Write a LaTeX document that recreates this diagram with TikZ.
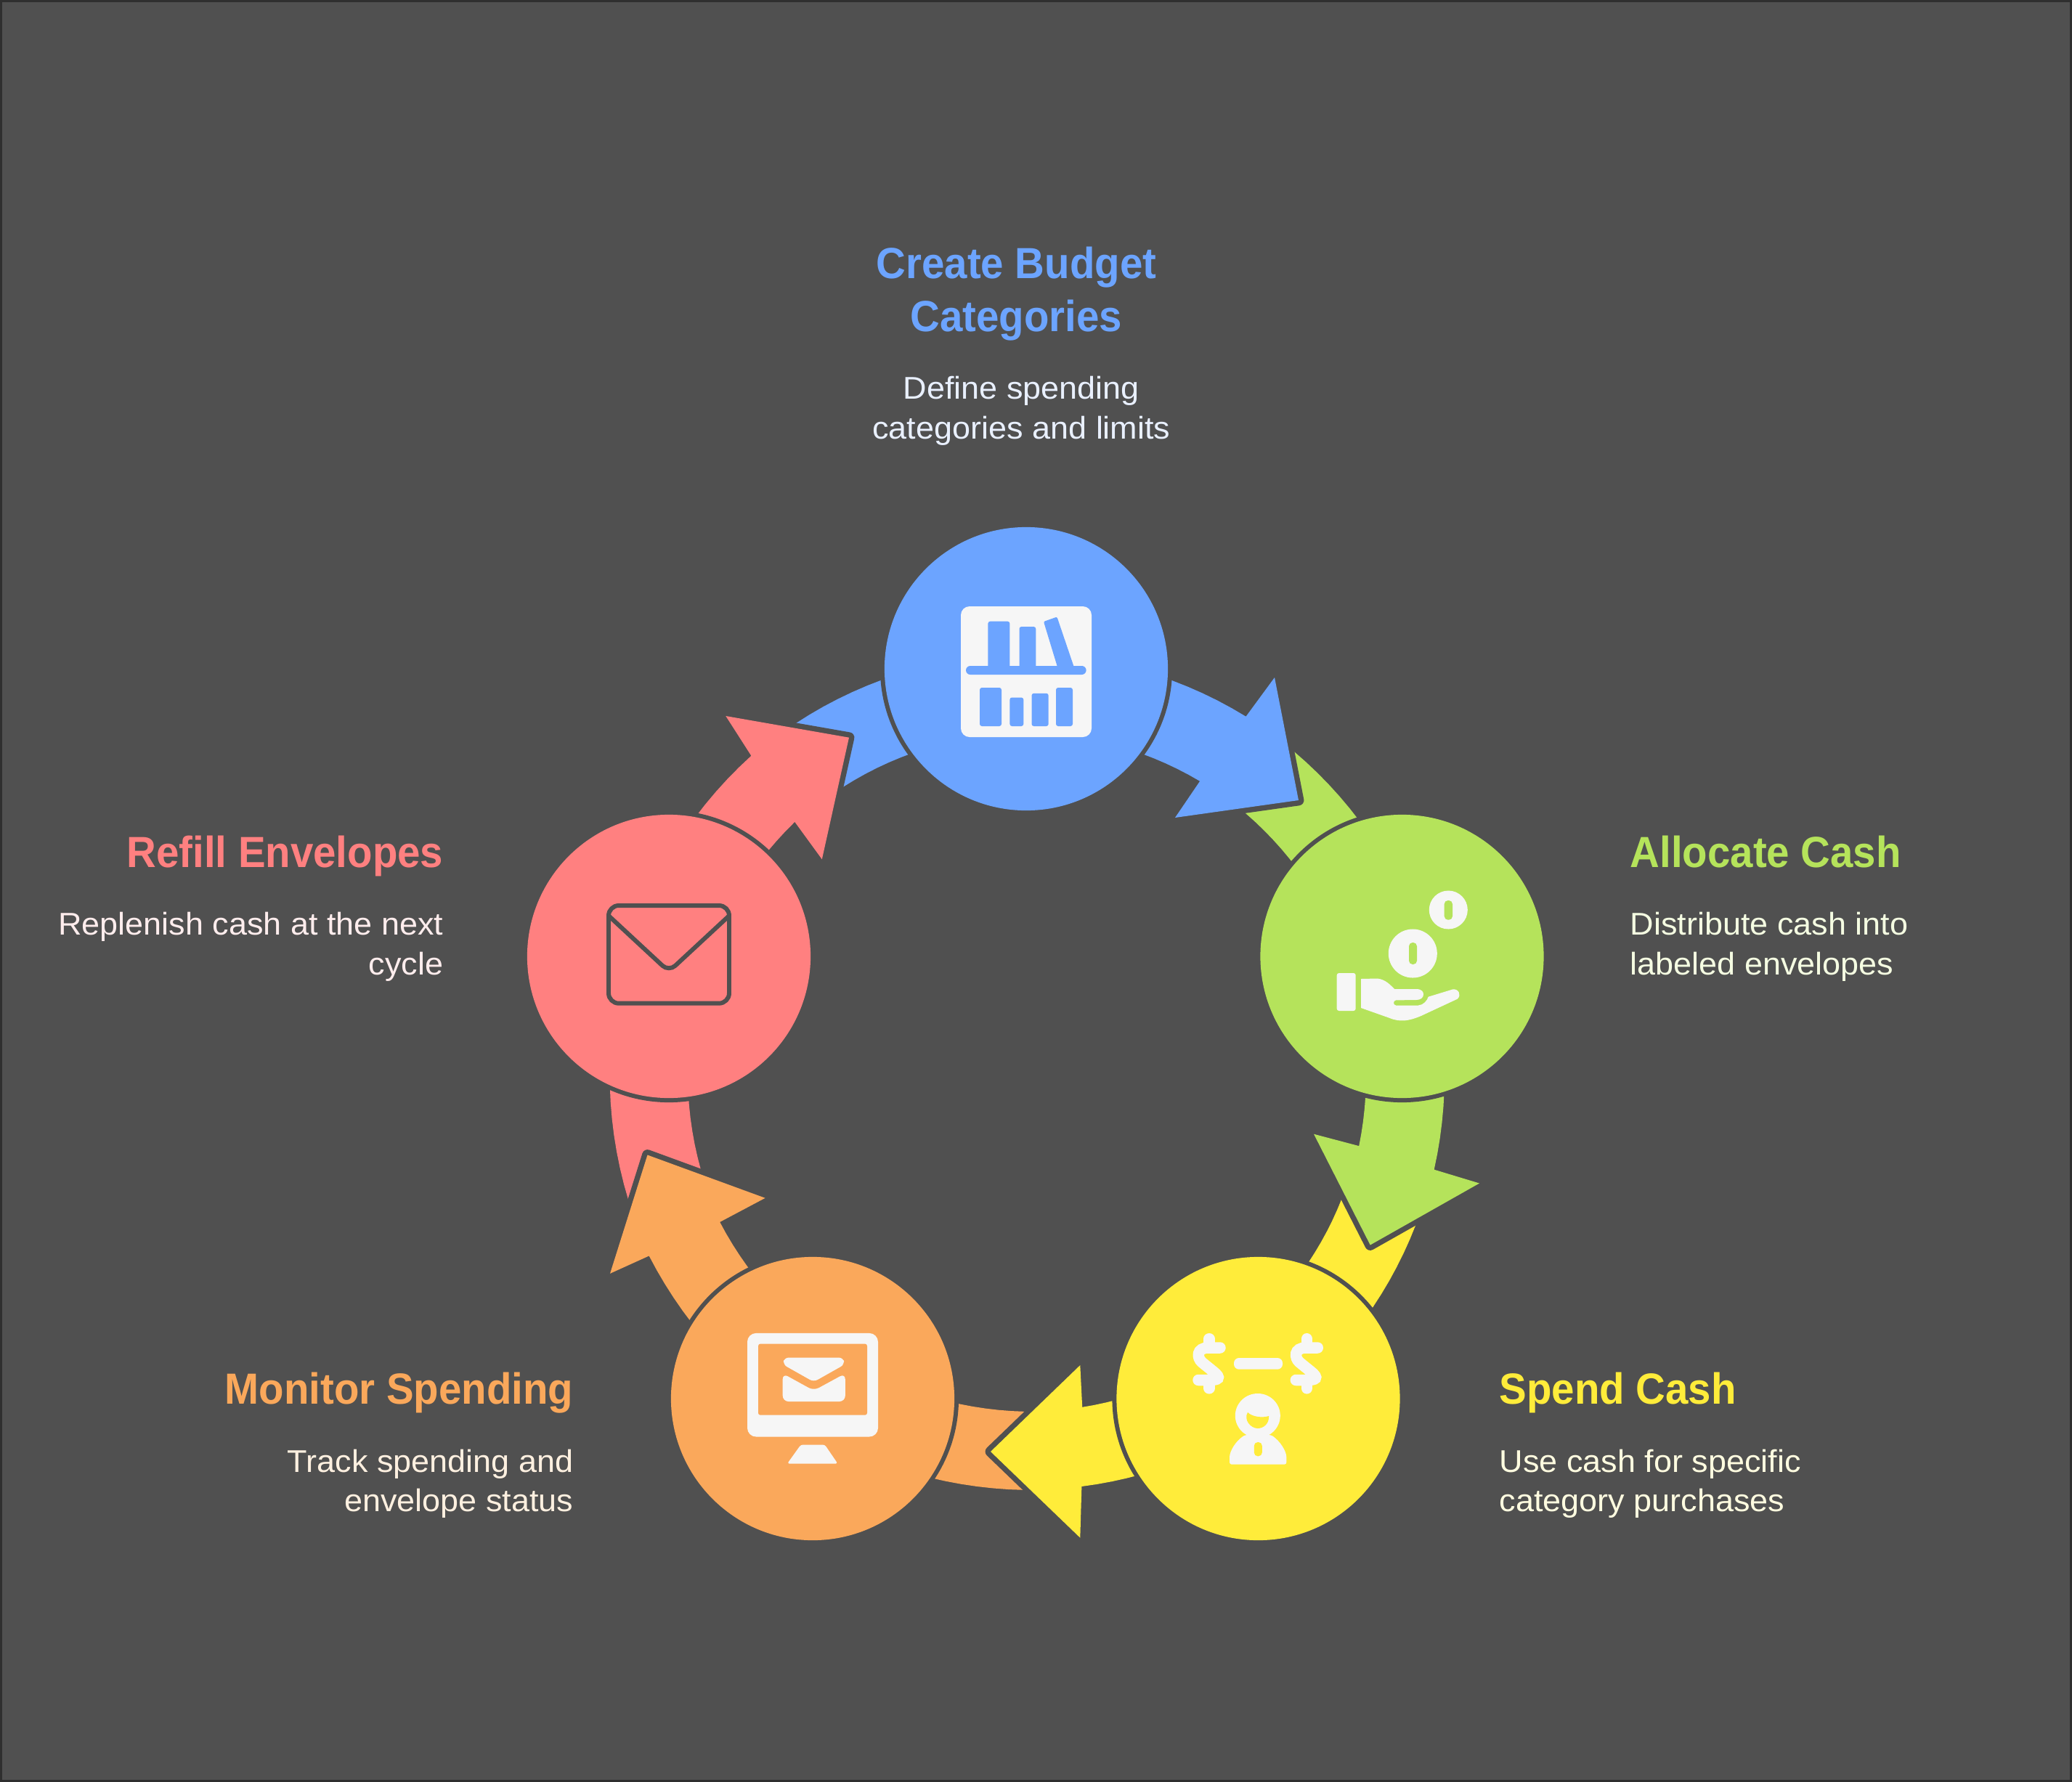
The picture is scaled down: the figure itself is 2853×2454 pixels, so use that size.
\documentclass[tikz,border=0pt]{standalone}
\usepackage{fontspec}
\setmainfont{Liberation Sans}
\newfontfamily\titlefont{Liberation Sans}[FakeStretch=0.94]
\newfontfamily\descfont{Liberation Sans}[FakeStretch=1.04]
\definecolor{bgc}{HTML}{505050}
\definecolor{edgec}{HTML}{2F2F2F}
\definecolor{iconc}{HTML}{F6F6F6}
\definecolor{bluec}{HTML}{6CA4FF}
\definecolor{greenc}{HTML}{B5E35B}
\definecolor{yellowc}{HTML}{FFEC3A}
\definecolor{orangec}{HTML}{FAA85B}
\definecolor{redc}{HTML}{FF8080}
\definecolor{bluet}{HTML}{E9F0FF}
\definecolor{greent}{HTML}{F5FDE2}
\definecolor{yellowt}{HTML}{FFFCE0}
\definecolor{oranget}{HTML}{FEF0E0}
\definecolor{redt}{HTML}{FFEDED}
\tikzset{
  ringfill/.style={fill=#1, preaction={draw=bgc, line width=4.2pt, line join=round}},
  stagecircle/.style={circle, inner sep=0pt, minimum size=3.9cm, fill=#1, preaction={draw=bgc, line width=3.4pt}},
  titletext/.style={inner sep=0pt, text=#1, font=\titlefont\fontsize{17.07}{20.5}\selectfont\bfseries},
  desctext/.style={inner sep=0pt, text=#1, font=\descfont\fontsize{12.3}{15.36}\selectfont},
  iconfill/.style={fill=iconc},
}
% colour, cx, cy, Ro, tail outer, notch outer, barb-tip-barb path, notch inner, tail inner (inner radius in \ringin)
\newcommand\pangle[3]{\pgfmathsetmacro#1{atan2(#3-\ringcy,#2-\ringcx)}}
\def\ringpts#1,#2;#3,#4;#5,#6;#7,#8;\relax{%
  \pangle\aA{#1}{#2}\pangle\aBraw{#3}{#4}%
  \pangle\aCraw{#5}{#6}\pangle\aDraw{#7}{#8}%
  \pgfmathsetmacro\aB{\aA+mod(\aBraw-\aA+720,360)}%
  \pgfmathsetmacro\aD{\aDraw}%
  \pgfmathsetmacro\aC{\aD+mod(\aCraw-\aD+720,360)}%
}
\newcommand\ringarrow[9]{%
  \def\ringcx{#2}\def\ringcy{#3}%
  \ringpts#5;#6;#8;#9;\relax
  \path[ringfill=#1]
    plot[domain=\aA:\aB, samples=30] ({\ringcx+#4*cos(\x)},{\ringcy+#4*sin(\x)})
    #7
    -- plot[domain=\aC:\aD, samples=30] ({\ringcx+\ringin*cos(\x)},{\ringcy+\ringin*sin(\x)})
    -- cycle;
}
\begin{document}
\begin{tikzpicture}[x=0.01cm,y=-0.01cm]
\useasboundingbox (0,0) rectangle (2853,2454);
\fill[bgc] (0,0) rectangle (2853,2454);
\draw[edgec, line width=0.85pt] (1.5,1.5) rectangle (2851.5,2452.5);

% ---- ring arrows
\def\ringin{485}
\ringarrow{redc}{1432}{1480}{592.5}{865.6,1653.6}{1034.6,1041}{-- (999.3,986) -- (1169,1015.7) -- (1131.8,1183.3)}{1096.4,1134}{964.3,1610.3}
\def\ringin{486}
\ringarrow{orangec}{1422}{1458}{594}{1410.7,2052.2}{893.8,1729.4}{-- (840,1753.8) -- (891.5,1590.5) -- (1053.6,1649.8)}{993.3,1681.8}{1410.7,1944.4}
\def\ringin{461.5}
\ringarrow{yellowc}{1418}{1482}{569.5}{1949,1687}{1489.4,2047}{-- (1487.3,2117.7) -- (1364,1999) -- (1487.3,1880)}{1490.2,1937.7}{1847.7,1650.5}
\def\ringin{478}
\ringarrow{greenc}{1403}{1482}{586}{1781.6,1035}{1974,1610.5}{-- (2037,1629.5) -- (1886.7,1714.5) -- (1809,1561.7)}{1869,1577.7}{1715,1119}
\def\ringin{468}
\ringarrow{bluec}{1413}{1478}{577}{1094.6,996.7}{1716,986}{-- (1755,933) -- (1788,1102) -- (1618,1126)}{1652,1076}{1160.7,1082.7}
% the head of the red arrow lies over the tail of the blue one
\begin{scope}
\clip (900,950) rectangle (1250,1250);
\def\ringin{485}
\ringarrow{redc}{1432}{1480}{592.5}{865.6,1653.6}{1034.6,1041}{-- (999.3,986) -- (1169,1015.7) -- (1131.8,1183.3)}{1096.4,1134}{964.3,1610.3}
\end{scope}

% ---- stage circles
\node[stagecircle=bluec]   (budget)  at (1413,921)   {};
\node[stagecircle=greenc]  (allocate) at (1930.5,1317) {};
\node[stagecircle=yellowc] (spend)   at (1732.5,1926) {};
\node[stagecircle=orangec] (monitor) at (1119,1926)  {};
\node[stagecircle=redc]    (refill)  at (921,1317)   {};

% ---- icon: bookshelf
\fill[iconfill, rounded corners=0.12cm] (1323,835) rectangle (1503,1015);
\begin{scope}[bluec]
\fill[rounded corners=0.03cm] (1360.4,925) -- (1360.4,855.7) -- (1390.4,855.7) -- (1390.4,925) -- cycle;
\fill[rounded corners=0.03cm] (1403.5,925) -- (1403.5,863) -- (1426.3,863) -- (1426.3,925) -- cycle;
\fill[rounded corners=0.02cm] (1437,856) -- (1455.4,849.5) -- (1481,925) -- (1458,925) -- cycle;
\fill[rounded corners=0.06cm] (1330,917) rectangle (1495.6,929);
\fill[rounded corners=0.03cm] (1349,947) rectangle (1379,1000);
\fill[rounded corners=0.03cm] (1390.4,960.5) rectangle (1409.3,1000);
\fill[rounded corners=0.03cm] (1420.5,954.8) rectangle (1443.7,1000);
\fill[rounded corners=0.03cm] (1454,947) rectangle (1477,1000);
\end{scope}

% ---- icon: hand with coins
\fill[iconfill] (1945.3,1313) circle[radius=0.335cm];
\fill[greenc, rounded corners=0.05cm] (1940,1298) rectangle (1951,1328);
\fill[iconfill] (1994.3,1253) circle[radius=0.265cm];
\fill[greenc, rounded corners=0.05cm] (1988.7,1240) rectangle (2000,1266.7);
\fill[iconfill, rounded corners=0.03cm] (1840.7,1340) rectangle (1866.7,1392);
\fill[iconfill] (1874,1348) -- (1896.7,1347.5) .. controls (1908,1349) and (1914,1356) .. (1920,1362)
  -- (1950,1362) .. controls (1958,1362) and (1960,1366) .. (1960,1369.4)
  .. controls (1960,1374) and (1956,1377) .. (1950,1377) -- (1922,1377.4)
  .. controls (1918,1378) and (1918,1384) .. (1922,1384.5) -- (1953,1384.5)
  .. controls (1960,1384) and (1965,1378) .. (1966.7,1372.7) -- (2000,1362.5)
  .. controls (2008,1361) and (2013,1370) .. (2006.7,1375.7) -- (1956.7,1399)
  .. controls (1940,1406) and (1928,1408) .. (1913,1401.8) -- (1874,1388) -- cycle;

% ---- icon: dollars and person
\foreach \sx in {0,134.3}{
\begin{scope}[xshift=\sx*0.01cm]
\draw[iconc, line width=4.4pt, line cap=round] (1680,1856) -- (1664,1856)
  .. controls (1647,1856) and (1648,1870) .. (1655,1876) -- (1671,1889)
  .. controls (1682,1898) and (1678,1900.5) .. (1664,1900.5) -- (1650,1900.5);
\draw[iconc, line width=4.3pt, line cap=round] (1665,1843.5) -- (1665,1856);
\draw[iconc, line width=4.3pt, line cap=round] (1665,1900) -- (1665,1912);
\end{scope}}
\fill[iconfill, rounded corners=0.07cm] (1699,1870) rectangle (1766,1885.7);
\fill[iconfill] (1731.8,1949.5) ellipse[x radius=0.31cm, y radius=0.305cm];
\fill[yellowc] (1718,1945) .. controls (1724,1951) and (1738,1953) .. (1747,1950)
  .. controls (1748,1960) and (1740,1967) .. (1731.8,1967)
  .. controls (1722,1967) and (1712,1955) .. (1718,1945) -- cycle;
\fill[iconfill, rounded corners=0.03cm] (1693,2016.7) -- (1693,2010) .. controls (1693,1998) and (1702,1984) .. (1714.6,1976)
  -- (1750,1976) .. controls (1762,1984) and (1771.4,1998) .. (1771.4,2010) -- (1771.4,2016.7) -- cycle;
\fill[yellowc, rounded corners=0.05cm] (1726.8,1986) rectangle (1737.8,2005.3);

% ---- icon: monitor with envelope
\fill[iconfill, rounded corners=0.12cm] (1029,1835.9) rectangle (1209,1978.5);
\fill[orangec, rounded corners=0.03cm] (1044,1850.6) rectangle (1194,1948.7);
\fill[iconfill, rounded corners=0.06cm] (1078,1879) -- (1080,1869.5) -- (1161,1869.5) -- (1163,1879) -- (1120.5,1903) -- cycle;
\fill[iconfill, rounded corners=0.08cm] (1077.7,1891.4) -- (1120.5,1915) -- (1163.8,1891.4) -- (1163.8,1930) -- (1077.7,1930) -- cycle;
\fill[iconfill, rounded corners=0.03cm] (1102.7,1989.5) -- (1135.7,1989.5) -- (1153.5,2015.6) -- (1084,2015.6) -- cycle;

% ---- icon: envelope outline
\draw[bgc, line width=1.7pt, rounded corners=0.14cm] (838,1247) rectangle (1004,1381.7);
\draw[bgc, line width=1.7pt, rounded corners=0.12cm] (838,1261) -- (921,1338) -- (1004,1261);

% ---- labels (the base anchor of a multi-line node is its last line)
\node[titletext=bluec, align=center, anchor=base] (t1) at (1399.5,456) {Create Budget\\Categories};
\node[desctext=bluet, align=center, anchor=base] (d1) at (1406.5,604) {Define spending\\categories and limits};
\node[titletext=greenc, align=left, anchor=base west] (t2) at (2244,1194) {Allocate Cash};
\node[desctext=greent, align=left, anchor=base west] (d2) at (2244,1342) {Distribute cash into\\labeled envelopes};
\node[titletext=yellowc, align=left, anchor=base west] (t3) at (2064,1933) {Spend Cash};
\node[desctext=yellowt, align=left, anchor=base west] (d3) at (2064,2081) {Use cash for specific\\category purchases};
\node[titletext=orangec, align=right, anchor=base east] (t4) at (790,1933) {Monitor Spending};
\node[desctext=oranget, align=right, anchor=base east] (d4) at (790,2081) {Track spending and\\envelope status};
\node[titletext=redc, align=right, anchor=base east] (t5) at (611,1194) {Refill Envelopes};
\node[desctext=redt, align=right, anchor=base east] (d5) at (611,1342) {Replenish cash at the next\\cycle};
\end{tikzpicture}
\end{document}
